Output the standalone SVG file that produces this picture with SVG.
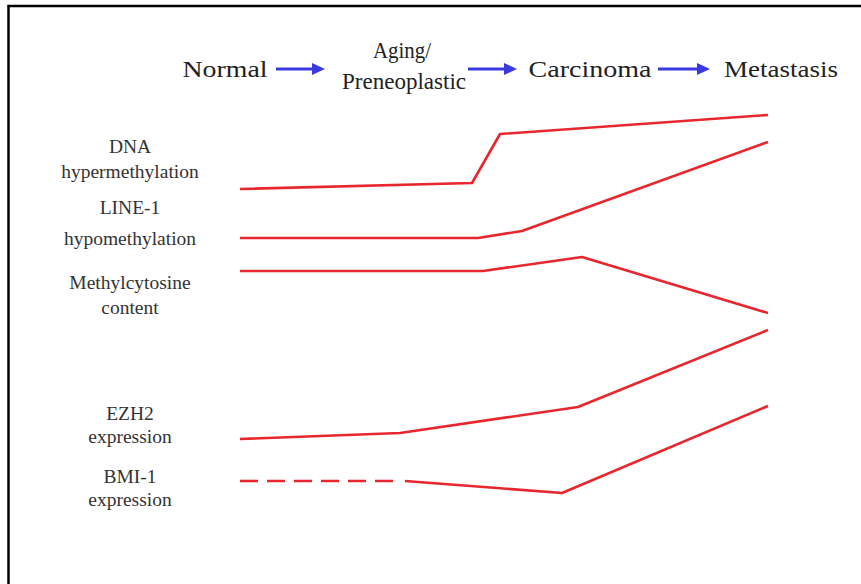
<svg xmlns="http://www.w3.org/2000/svg" width="861" height="584" viewBox="0 0 861 584">
<style>
.t{font-family:"Liberation Serif","Times New Roman",serif;fill:#333;text-anchor:middle}
.h{font-size:23px;fill:#222}
.l{font-size:19.5px}
.c{fill:none;stroke:#e8262e;stroke-width:2.6;stroke-linejoin:round}
.a{stroke:#3a3ae0;stroke-width:3;fill:none}
</style>
<defs>
<marker id="ah" markerWidth="14" markerHeight="14" refX="2" refY="6" orient="auto" markerUnits="userSpaceOnUse" viewBox="0 0 14 12">
<path d="M0,0 L13,6 L0,12 Z" fill="#3a3ae0"/>
</marker>
</defs>
<rect width="861" height="584" fill="#fff"/>
<path d="M8.5,584 V6 H861" fill="none" stroke="#000" stroke-width="2.5"/>
<g id="header">
<g id="normal"><text class="t h" x="225" y="77" textLength="85" lengthAdjust="spacingAndGlyphs">Normal</text></g>
<g id="aging"><text class="t h" x="402" y="58" font-size="19" textLength="58" lengthAdjust="spacingAndGlyphs">Aging/</text><text class="t h" x="404" y="89" textLength="124" lengthAdjust="spacingAndGlyphs">Preneoplastic</text></g>
<g id="carcinoma"><text class="t h" x="590" y="77" textLength="123" lengthAdjust="spacingAndGlyphs">Carcinoma</text></g>
<g id="metastasis"><text class="t h" x="781" y="77" textLength="114" lengthAdjust="spacingAndGlyphs">Metastasis</text></g>
</g>
<g id="arrows">
<path class="a" d="M276,69 H314" marker-end="url(#ah)"/>
<path class="a" d="M468,69 H506" marker-end="url(#ah)"/>
<path class="a" d="M658,69 H699" marker-end="url(#ah)"/>
</g>
<g id="labels">
<g id="dna"><text class="t l" x="130" y="153">DNA</text><text class="t l" x="130" y="178">hypermethylation</text></g>
<g id="line1"><text class="t l" x="130" y="214">LINE-1</text><text class="t l" x="130" y="245">hypomethylation</text></g>
<g id="methyl"><text class="t l" x="130" y="289">Methylcytosine</text><text class="t l" x="130" y="314">content</text></g>
<g id="ezh2"><text class="t l" x="130" y="420">EZH2</text><text class="t l" x="130" y="443">expression</text></g>
<g id="bmi1"><text class="t l" x="130" y="483">BMI-1</text><text class="t l" x="130" y="506">expression</text></g>
</g>
<g id="connectors">
<polyline class="c" points="240,189 472,183 500,134 768,115"/>
<polyline class="c" points="240,238 478,238 522,231 768,142"/>
<polyline class="c" points="240,271 483,271 582,257 768,313"/>
<polyline class="c" points="240,439 400,433 578,407 768,330"/>
<line class="c" x1="240" y1="481" x2="402" y2="481" stroke-dasharray="18 9"/>
<polyline class="c" points="405,481 562,493 768,406"/>
</g>
</svg>
